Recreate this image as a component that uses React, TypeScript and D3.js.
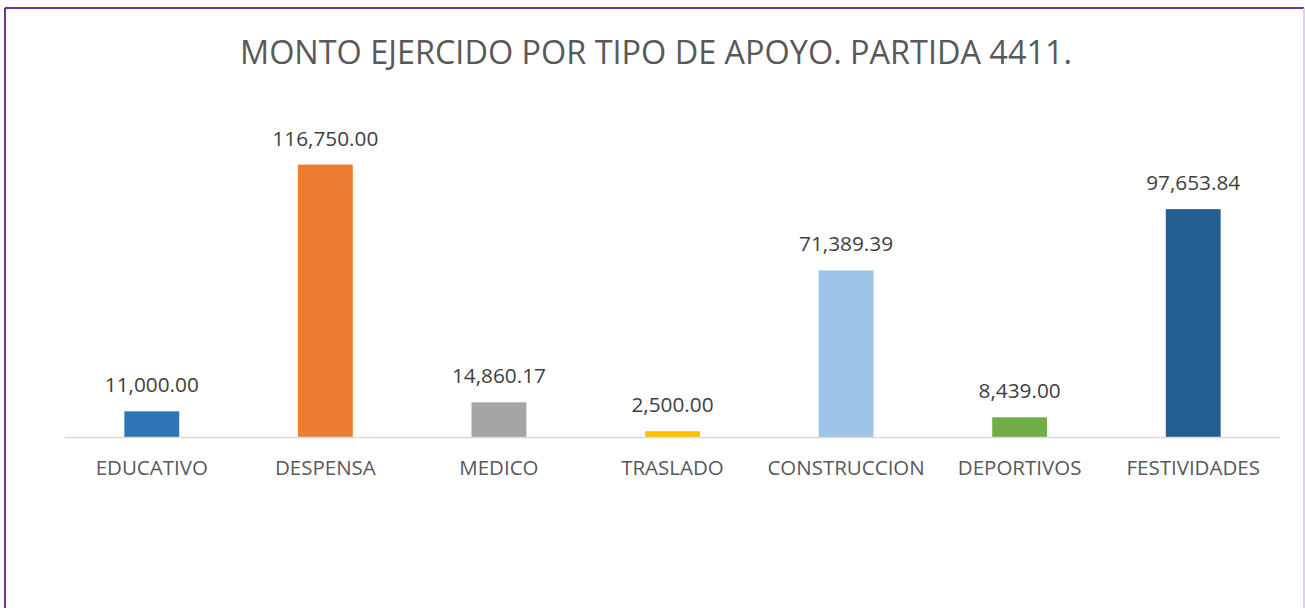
import React from "react";
import * as d3 from "d3";

const categories = ["EDUCATIVO", "DESPENSA", "MEDICO", "TRASLADO", "CONSTRUCCION", "DEPORTIVOS", "FESTIVIDADES"];
const values = [11000.0, 116750.0, 14860.17, 2500.0, 71389.39, 8439.0, 97653.84];
const colors = ["#2E75B6", "#ED7D31", "#A5A5A5", "#FFC000", "#9DC3E6", "#70AD47", "#255E91"];
const title = "MONTO EJERCIDO POR TIPO DE APOYO. PARTIDA 4411.";

const W = 1305;
const H = 608;

export default function App() {
  const x = d3.scaleBand<string>().domain(categories).range([65, 1280]).paddingInner(0.684).paddingOuter(0.342);
  const y = d3.scaleLinear().domain([0, 120000]).range([437, 157]);
  const fmt = d3.format(",.2f");
  const font = "'Open Sans', sans-serif";

  return (
    <svg width={W} height={H} style={{ position: "absolute", left: 0, top: 0, background: "#fff" }}>
      <rect x={0} y={0} width={W} height={H} fill="#fff" />
      <line x1={5} y1={8} x2={1304} y2={8} stroke="#7030A0" strokeWidth={2} />
      <line x1={5} y1={8} x2={5} y2={H} stroke="#7030A0" strokeWidth={2} />
      <line x1={1304} y1={8} x2={1304} y2={H} stroke="#D5BFE6" strokeWidth={1.5} />
      <text x={656} y={64} textAnchor="middle" fontFamily={font} fontSize={32} fill="#595959"
        textLength={832} lengthAdjust="spacingAndGlyphs">
        {title}
      </text>
      {categories.map((c, i) => (
        <g key={c}>
          <rect x={x(c)} y={y(values[i])} width={x.bandwidth()} height={y(0) - y(values[i])} fill={colors[i]} />
          <text
            x={(x(c) as number) + x.bandwidth() / 2}
            y={y(values[i]) - 19}
            textAnchor="middle"
            fontFamily={font}
            fontSize={20.8}
            fill="#404040"
          >
            {fmt(values[i])}
          </text>
          <text
            x={(x(c) as number) + x.bandwidth() / 2}
            y={475}
            textAnchor="middle"
            fontFamily={font}
            fontSize={20.5}
            fill="#595959"
          >
            {c}
          </text>
        </g>
      ))}
      <line x1={65} y1={437.5} x2={1280} y2={437.5} stroke="#D9D9D9" strokeWidth={1.5} />
    </svg>
  );
}
